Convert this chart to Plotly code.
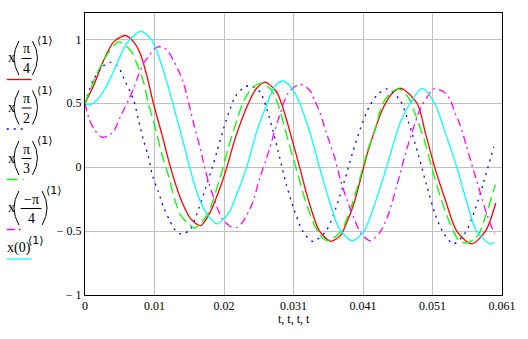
import plotly.graph_objects as go

# ---------------- data ----------------
RED_T = [0, 0.0013, 0.00275, 0.0042, 0.0059, 0.0071, 0.00807, 0.00903, 0.0100, 0.0112,
         0.0125, 0.01387, 0.0154, 0.01691, 0.01811, 0.01956, 0.02076, 0.02198, 0.02391, 0.02507,
         0.02633, 0.02801, 0.02873, 0.0297, 0.0314, 0.0326, 0.0343, 0.03598, 0.03743, 0.03815,
         0.03937, 0.04057, 0.04154, 0.04372, 0.04516, 0.04622, 0.04858, 0.0498, 0.05115, 0.0527,
         0.05438, 0.05655, 0.05858, 0.06009]
RED_V = [0.5, 0.643, 0.838, 0.98, 1.03, 0.98, 0.89, 0.72, 0.5, 0.266,
         0.0, -0.23, -0.40, -0.457, -0.373, -0.19, 0.0, 0.227, 0.5, 0.615,
         0.665, 0.59, 0.5, 0.33, 0.0, -0.242, -0.5, -0.58, -0.53, -0.45,
         -0.28, -0.04, 0.15, 0.475, 0.59, 0.617, 0.5, 0.266, 0.0, -0.255,
         -0.5, -0.60, -0.5, -0.28]

BLUE_T = [0, 0.0012, 0.00265, 0.00377, 0.00483, 0.0059, 0.0071, 0.00782, 0.00855, 0.00927,
          0.0099, 0.01072, 0.01145, 0.01232, 0.01314, 0.0141, 0.01532, 0.01666, 0.01763, 0.01859,
          0.01931, 0.02029, 0.02126, 0.02198, 0.02318, 0.02415, 0.0256, 0.02656, 0.02753, 0.0285,
          0.02946, 0.03068, 0.03188, 0.03333, 0.03525, 0.0367, 0.03792, 0.03912, 0.04033, 0.04154,
          0.04275, 0.04419, 0.04612, 0.04734, 0.04883, 0.05003, 0.05125, 0.05245, 0.0539, 0.0556,
          0.05705, 0.05825, 0.0598]
BLUE_V = [0.5, 0.68, 0.79, 0.82, 0.786, 0.67, 0.526, 0.37, 0.213, 0.083,
          -0.073, -0.19, -0.308, -0.41, -0.49, -0.524, -0.49, -0.32, -0.164, -0.008,
          0.122, 0.305, 0.46, 0.552, 0.622, 0.638, 0.59, 0.46, 0.278, 0.07,
          -0.138, -0.347, -0.503, -0.58, -0.5, -0.32, -0.113, 0.11, 0.31, 0.47,
          0.565, 0.612, 0.52, 0.35, 0.083, -0.152, -0.373, -0.516, -0.60, -0.516,
          -0.333, -0.13, 0.16]

GREEN_T = [0, 0.00178, 0.00348, 0.00493, 0.00662, 0.00758, 0.00855, 0.00927, 0.01024, 0.0112,
           0.01217, 0.01314, 0.0141, 0.01532, 0.01594, 0.0171, 0.01811, 0.01908, 0.02004, 0.02101,
           0.02198, 0.02318, 0.02439, 0.02584, 0.02728, 0.02826, 0.02923, 0.03018, 0.03115, 0.03212,
           0.03333, 0.03453, 0.03565, 0.03743, 0.03888, 0.04009, 0.0413, 0.0425, 0.04347, 0.04467,
           0.04589, 0.04724, 0.04835, 0.04956, 0.05076, 0.05198, 0.05318, 0.05463, 0.05583, 0.05753,
           0.05873, 0.06003]
GREEN_V = [0.5, 0.734, 0.90, 0.98, 0.916, 0.81, 0.67, 0.5, 0.317, 0.109,
           -0.06, -0.255, -0.386, -0.45, -0.477, -0.43, -0.35, -0.20, -0.034, 0.16,
           0.33, 0.513, 0.617, 0.656, 0.604, 0.487, 0.305, 0.122, -0.06, -0.242,
           -0.425, -0.542, -0.575, -0.503, -0.32, -0.113, 0.122, 0.305, 0.487, 0.578,
           0.612, 0.55, 0.41, 0.226, -0.008, -0.23, -0.41, -0.568, -0.594, -0.529,
           -0.36, -0.138]

MAGENTA_T = [0, 0.00058, 0.0013, 0.00251, 0.00396, 0.0054, 0.00638, 0.0071, 0.00782, 0.00855,
             0.00927, 0.01024, 0.01097, 0.01193, 0.0129, 0.01362, 0.01435, 0.01482, 0.01532, 0.01594,
             0.01691, 0.01763, 0.01884, 0.02004, 0.02126, 0.02221, 0.02294, 0.02439, 0.0256, 0.02656,
             0.0285, 0.0297, 0.0314, 0.03285, 0.03357, 0.0343, 0.03525, 0.03647, 0.03743, 0.0384,
             0.03937, 0.04033, 0.04177, 0.04322, 0.04444, 0.04564, 0.04685, 0.04782, 0.04908, 0.05003,
             0.051, 0.05245, 0.05342, 0.05415, 0.05487, 0.05583, 0.0568, 0.05777, 0.05873, 0.05945,
             0.05995]
MAGENTA_V = [0.5, 0.38, 0.30, 0.234, 0.266, 0.42, 0.526, 0.617, 0.72, 0.81,
             0.864, 0.93, 0.942, 0.92, 0.838, 0.76, 0.67, 0.578, 0.47, 0.33,
             0.135, -0.034, -0.242, -0.4, -0.464, -0.47, -0.438, -0.295, -0.08, 0.07,
             0.41, 0.578, 0.648, 0.604, 0.526, 0.435, 0.278, 0.083, -0.113, -0.268,
             -0.4, -0.516, -0.576, -0.503, -0.36, -0.138, 0.1, 0.27, 0.46, 0.547,
             0.612, 0.59, 0.526, 0.42, 0.33, 0.16, -0.02, -0.19, -0.36, -0.464,
             -0.52]

CYAN_T = [0, 0.00058, 0.00178, 0.00323, 0.00468, 0.00613, 0.00816, 0.00975, 0.01097, 0.01217,
          0.01337, 0.01435, 0.0154, 0.01666, 0.01787, 0.01931, 0.02101, 0.02246, 0.02366, 0.02507,
          0.02681, 0.02782, 0.02898, 0.03043, 0.0314, 0.03308, 0.0343, 0.03575, 0.0372, 0.03912,
          0.04082, 0.04231, 0.04395, 0.04612, 0.04757, 0.04931, 0.05115, 0.0527, 0.05438, 0.05583,
          0.05728, 0.05922, 0.05995]
CYAN_V = [0.5, 0.487, 0.526, 0.643, 0.81, 0.97, 1.062, 0.995, 0.838, 0.63,
          0.395, 0.2, -0.02, -0.24, -0.37, -0.443, -0.36, -0.176, 0.0, 0.27,
          0.52, 0.64, 0.674, 0.605, 0.5, 0.24, 0.0, -0.265, -0.48, -0.576,
          -0.5, -0.3, -0.03, 0.35, 0.5, 0.617, 0.5, 0.27, 0.0, -0.27,
          -0.5, -0.60, -0.59]

X_TICK_LABELS = ["0", "0.01", "0.02", "0.031", "0.041", "0.051", "0.061"]
Y_TICK_VALUES = [-1, -0.5, 0, 0.5, 1]
Y_TICK_LABELS = ["\u2212 1", "\u2212 0.5", "0", "0.5", "1"]
X_AXIS_TITLE = "t, t, t, t"
X_MAX = 0.061
Y_MIN, Y_MAX = -1.0, 1.206

LEGEND_NUM = ["\u03c0", "\u03c0", "\u03c0", "\u2212\u03c0", None]
LEGEND_DEN = ["4", "2", "3", "4", None]
LEGEND_SUP = "\u27e81\u27e9"

# ---------------- styling ----------------
SERIES = [
    (RED_T, RED_V, "#FF0000", "solid"),
    (BLUE_T, BLUE_V, "#0000FF", "2px,5px"),
    (GREEN_T, GREEN_V, "#00FF00", "11px,5px"),
    (MAGENTA_T, MAGENTA_V, "#FF00FF", "8px,4px,2px,4px"),
    (CYAN_T, CYAN_V, "#00FFFF", "solid"),
]

W, H = 528, 339
ML, MR, MT, MB = 85, 22, 13, 44
PW, PH = W - ML - MR, H - MT - MB
SERIF = "Liberation Serif, Times New Roman, DejaVu Serif, serif"
SUPFONT = "DejaVu Sans, Liberation Serif, serif"


def px(x):
    return (x - ML) / PW


def py(y):
    return (H - MB - y) / PH


fig = go.Figure()
for t, v, color, dash in SERIES:
    fig.add_trace(go.Scatter(
        x=t, y=v, mode="lines",
        line=dict(color=color, width=1.3, dash=dash, shape="spline", smoothing=0.8),
        hoverinfo="skip", showlegend=False))

axis_common = dict(showgrid=True, gridcolor="#C0C0C0", gridwidth=1,
                   showline=True, linecolor="black", linewidth=1, mirror=True,
                   zeroline=False, ticks="",
                   tickfont=dict(family=SERIF, size=12, color="black"))

fig.update_layout(
    width=W, height=H,
    margin=dict(l=ML, r=MR, t=MT, b=MB, pad=0),
    paper_bgcolor="white", plot_bgcolor="white",
    showlegend=False,
    xaxis=dict(range=[0, X_MAX],
               tickvals=[i * X_MAX / (len(X_TICK_LABELS) - 1) for i in range(len(X_TICK_LABELS))],
               ticktext=X_TICK_LABELS, **axis_common),
    yaxis=dict(range=[Y_MIN, Y_MAX], tickvals=Y_TICK_VALUES, ticktext=Y_TICK_LABELS,
               **axis_common),
)

annotations = []
shapes = []


def text(x, y, s, size=14, family=SERIF):
    annotations.append(dict(x=px(x), y=py(y), xref="paper", yref="paper", text=s,
                            showarrow=False, xanchor="center", yanchor="middle", borderpad=0,
                            font=dict(family=family, size=size, color="black")))


def paren(x_end, x_mid, y_top, y_bot):
    ctrl = 2 * x_mid - x_end
    path = "M %f,%f Q %f,%f %f,%f" % (px(x_end), py(y_top), px(ctrl), py((y_top + y_bot) / 2),
                                      px(x_end), py(y_bot))
    shapes.append(dict(type="path", path=path, xref="paper", yref="paper",
                       line=dict(color="black", width=1)))


def hline(x0, x1, y, color, width=1, dash="solid"):
    shapes.append(dict(type="line", xref="paper", yref="paper",
                       x0=px(x0), x1=px(x1), y0=py(y), y1=py(y),
                       line=dict(color=color, width=width, dash=dash)))


LEG_BASE = [79.5, 129, 179.5, 229.5, 259]
LEG_LEN = [31, 26, 23, 23, 31]
for i, (num, den) in enumerate(zip(LEGEND_NUM, LEGEND_DEN)):
    b = LEG_BASE[i]
    _, _, color, dash = SERIES[i]
    if num is not None:
        wide = len(num) > 1
        cx = 30.7 if wide else 25.8
        bx0, bx1 = (20, 41) if wide else (21, 31)
        rp = (41.7, 46.7) if wide else (32, 37)
        sx = 54 if wide else 45
        text(11, b - 21.5, "x")
        paren(18.3, 13.3, b - 38.5, b - 4.5)
        paren(rp[0], rp[1], b - 38.5, b - 4.5)
        text(cx, b - 30.5, num)
        hline(bx0, bx1, b - 21, "black")
        text(cx, b - 11, den)
        text(sx, b - 39, LEGEND_SUP, size=11, family=SUPFONT)
    else:
        text(18, b - 11, "x(0)")
        text(35.5, b - 19, LEGEND_SUP, size=11, family=SUPFONT)
    hline(6, LEG_LEN[i], b, color, width=1.3, dash=dash)

annotations.append(dict(x=0.5, y=py(311), xref="paper", yref="paper", text=X_AXIS_TITLE,
                        showarrow=False, xanchor="center", yanchor="top", borderpad=0,
                        font=dict(family=SERIF, size=12, color="black")))

fig.update_layout(annotations=annotations, shapes=shapes)
fig.write_html("out.html")
